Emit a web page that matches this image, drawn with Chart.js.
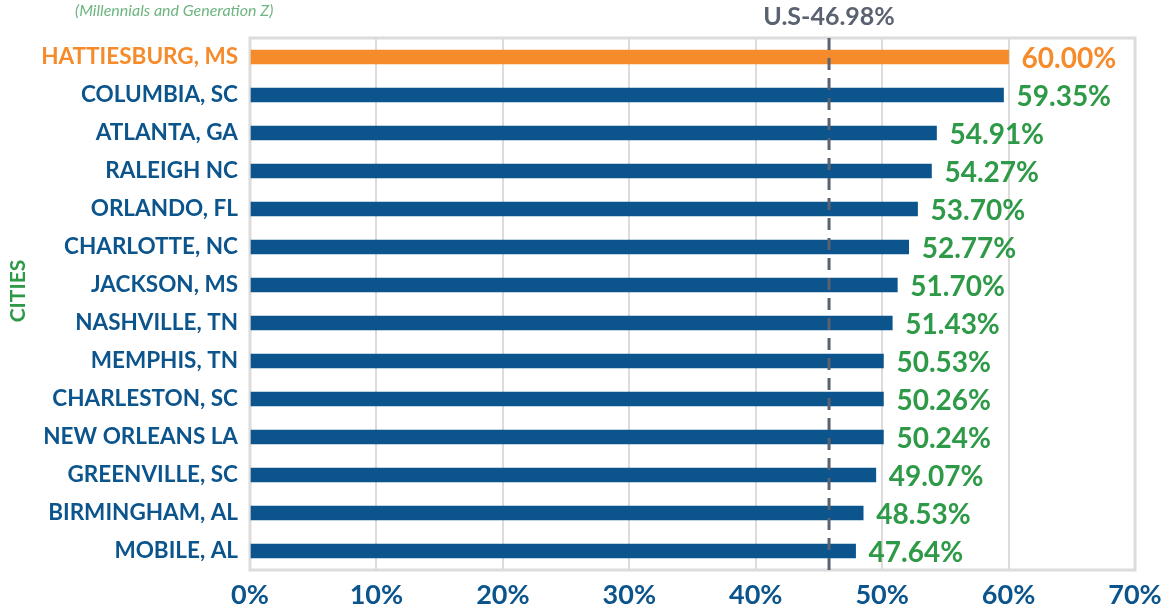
<!DOCTYPE html>
<html>
<head>
<meta charset="utf-8">
<script src="https://cdn.jsdelivr.net/npm/chart.js@4"></script>
<style>
  html, body { margin: 0; padding: 0; background: #ffffff; }
  #wrap { width: 1165px; height: 610px; position: relative; }
</style>
</head>
<body>
<div id="wrap"><canvas id="chartCities" width="1165" height="610"></canvas></div>
<script>
// data
const cities = [
  'HATTIESBURG, MS', 'COLUMBIA, SC', 'ATLANTA, GA', 'RALEIGH NC', 'ORLANDO, FL',
  'CHARLOTTE, NC', 'JACKSON, MS', 'NASHVILLE, TN', 'MEMPHIS, TN', 'CHARLESTON, SC',
  'NEW ORLEANS LA', 'GREENVILLE, SC', 'BIRMINGHAM, AL', 'MOBILE, AL'
];
const shares = [60.00, 59.35, 54.91, 54.27, 53.70, 52.77, 51.70, 51.43, 50.53, 50.26, 50.24, 49.07, 48.53, 47.64];
const barValues = [60.0, 59.6, 54.3, 53.9, 52.8, 52.1, 51.2, 50.8, 50.1, 50.1, 50.1, 49.5, 48.5, 47.9];
const xTicks = [0, 10, 20, 30, 40, 50, 60, 70];
const usLabel = 'U.S-46.98%';
const usLinePos = 45.8;

const ORANGE = '#f68b2c';
const BLUE = '#0b548c';
const GREEN = '#2e9a48';
const GREY = '#5a6170';
const FONT = 'Lato, "Open Sans", sans-serif';

/**
 * Frame, US average marker, value labels and side texts
 */
const decorations = {
  id: 'decorations',
  beforeDatasetsDraw(chart) {
    const { ctx, chartArea: a } = chart;
    ctx.save();
    ctx.strokeStyle = '#dcdcdc';
    ctx.lineWidth = 3;
    ctx.strokeRect(a.left, a.top, a.right - a.left, a.bottom - a.top);
    ctx.restore();
  },
  afterDatasetsDraw(chart) {
    const { ctx, chartArea: a, scales } = chart;
    const x = scales.x.getPixelForValue(usLinePos);

    ctx.save();
    ctx.strokeStyle = GREY;
    ctx.lineWidth = 3;
    ctx.setLineDash([12, 8]);
    ctx.beginPath();
    ctx.moveTo(x, a.top);
    ctx.lineTo(x, a.bottom);
    ctx.stroke();
    ctx.setLineDash([]);

    ctx.fillStyle = GREY;
    ctx.font = 'bold 25px ' + FONT;
    ctx.textAlign = 'center';
    ctx.textBaseline = 'middle';
    ctx.fillText(usLabel, x, 17);

    // value labels
    const meta = chart.getDatasetMeta(0);
    ctx.font = 'bold 28px ' + FONT;
    ctx.textAlign = 'left';
    meta.data.forEach((bar, i) => {
      ctx.fillStyle = i === 0 ? ORANGE : GREEN;
      ctx.fillText(shares[i].toFixed(2) + '%', bar.x + 13, bar.y + 2);
    });

    // subtitle and axis title
    ctx.fillStyle = '#6db581';
    ctx.font = 'italic 16px ' + FONT;
    ctx.fillText('(Millennials and Generation Z)', 75, 11);

    ctx.translate(18, 291);
    ctx.rotate(-Math.PI / 2);
    ctx.fillStyle = GREEN;
    ctx.font = 'bold 21px ' + FONT;
    ctx.textAlign = 'center';
    ctx.fillText('CITIES', 0, 0);
    ctx.restore();
  }
};

const ctx = document.getElementById('chartCities').getContext('2d');

new Chart(ctx, {
  type: 'bar',
  data: {
    labels: cities,
    datasets: [{
      data: barValues,
      backgroundColor: cities.map((c, i) => i === 0 ? ORANGE : BLUE),
      barThickness: 14,
      borderWidth: 0
    }]
  },
  options: {
    indexAxis: 'y',
    responsive: false,
    animation: false,
    layout: { padding: { top: 38, right: 30, bottom: 0, left: 0 } },
    plugins: {
      legend: { display: false },
      tooltip: { enabled: false }
    },
    scales: {
      x: {
        min: 0,
        max: 70,
        afterBuildTicks: (scale) => { scale.ticks = xTicks.map(v => ({ value: v })); },
        afterFit: (scale) => {
          scale.height = 40;
          scale.paddingLeft = 0;
          scale.paddingRight = 0;
        },
        ticks: {
          color: BLUE,
          padding: 9,
          font: { family: FONT, size: 27, weight: 'bold' },
          callback: (v) => v + '%'
        },
        grid: { color: '#dcdcdc', lineWidth: 2, drawTicks: false },
        border: { display: false }
      },
      y: {
        afterFit: (scale) => { scale.width = 250; },
        ticks: {
          color: cities.map((c, i) => i === 0 ? ORANGE : BLUE),
          padding: 12,
          font: { family: FONT, size: 22.5, weight: 'bold' }
        },
        grid: { display: false, drawTicks: false },
        border: { display: false }
      }
    }
  },
  plugins: [decorations]
});
</script>
</body>
</html>
